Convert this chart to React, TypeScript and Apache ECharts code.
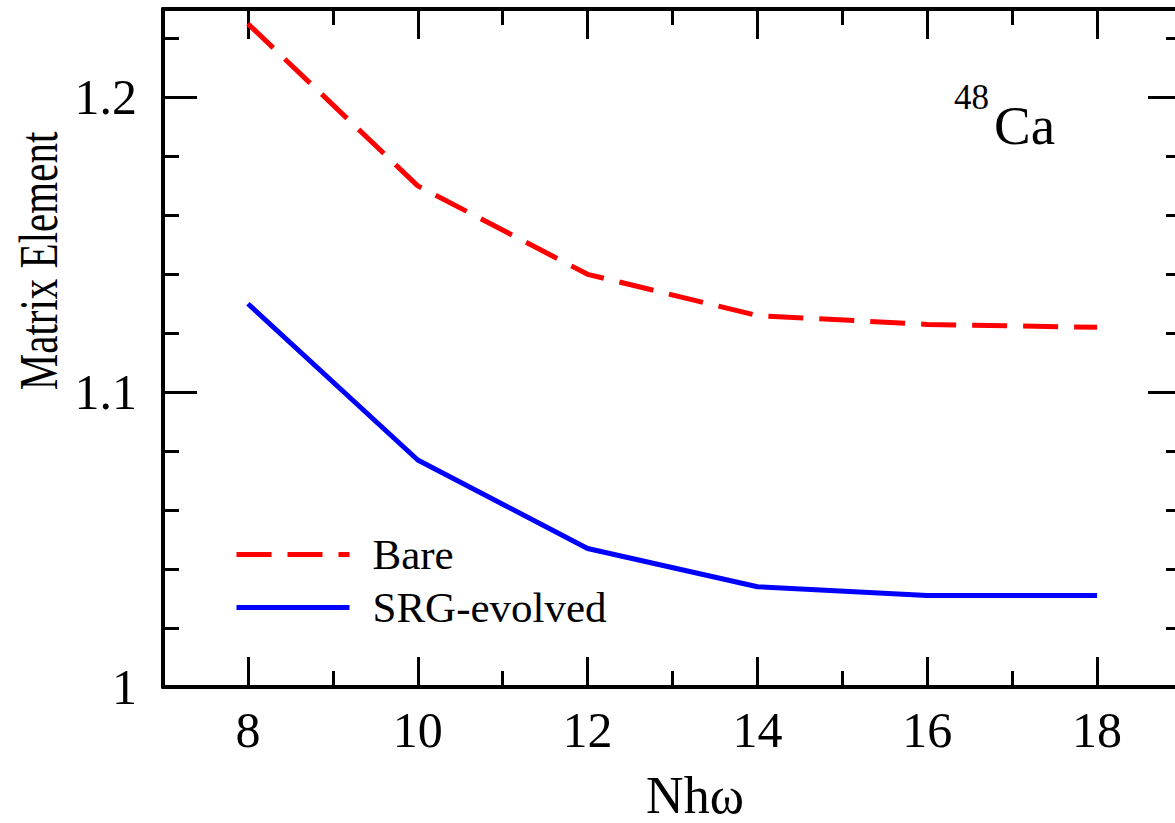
import React, { useEffect, useRef } from "react";
import * as echarts from "echarts";

const nhw = [8, 10, 12, 14, 16, 18];
const bare = [1.225, 1.17, 1.14, 1.126, 1.123, 1.122];
const srg = [1.13, 1.077, 1.047, 1.034, 1.031, 1.031];
const xMajor = [8, 10, 12, 14, 16, 18];
const xMinor = [9, 11, 13, 15, 17];
const yMajor = [1, 1.1, 1.2];

const FONT = "Liberation Serif";

export default function App() {
  const ref = useRef<HTMLDivElement>(null);
  useEffect(() => {
    if (!ref.current) return;
    const chart = echarts.init(ref.current, undefined, { renderer: "svg" });
    const axisLine = { show: true, lineStyle: { color: "#000", width: 4 } };
    const tickStyle = { color: "#000", width: 3 };
    const xBase = { type: "value", min: 7, max: 19, interval: 1, splitLine: { show: false } };
    const yBase = { type: "value", min: 1, max: 1.23, interval: 0.1, splitLine: { show: false } };
    chart.setOption({
      animation: false,
      backgroundColor: "#fff",
      grid: {
        left: 163,
        top: 9,
        right: -7,
        bottom: 136,
        containLabel: false,
        outerBoundsMode: "none",
      },
      graphic: [
        {
          type: "text",
          left: 954,
          top: 80,
          style: { text: "48", fontFamily: FONT, fontSize: 35, fill: "#000" },
        },
        {
          type: "text",
          left: 994,
          top: 98,
          style: { text: "Ca", fontFamily: FONT, fontSize: 55, fill: "#000" },
        },
        {
          type: "text",
          x: 38,
          y: 261,
          rotation: Math.PI / 2,
          scaleX: 0.76,
          style: {
            text: "Matrix Element",
            fontFamily: FONT,
            fontSize: 54,
            fill: "#000",
            align: "center",
            verticalAlign: "middle",
          },
        },
        {
          type: "text",
          x: 695,
          y: 795,
          style: {
            text: "Nhω",
            fontFamily: FONT,
            fontSize: 52,
            fill: "#000",
            align: "center",
            verticalAlign: "middle",
          },
        },
      ],
      legend: {
        orient: "vertical",
        left: 229,
        top: 528,
        itemWidth: 113,
        itemHeight: 20,
        itemGap: 10,
        itemStyle: { opacity: 0 },
        lineStyle: { width: 5 },
        textStyle: { fontFamily: FONT, fontSize: 43, color: "#000", padding: [0, 0, 0, 18] },
        data: ["Bare", "SRG-evolved"],
      },
      xAxis: [
        {
          ...xBase,
          position: "bottom",
          axisLine,
          axisTick: { show: true, inside: true, length: 30, lineStyle: tickStyle, customValues: xMajor },
          axisLabel: { show: true, customValues: xMajor, fontFamily: FONT, fontSize: 50, color: "#000", margin: 18 },
        },
        {
          ...xBase,
          position: "bottom",
          axisLine: { show: false },
          axisTick: { show: true, inside: true, length: 16, lineStyle: tickStyle, customValues: xMinor },
          axisLabel: { show: false },
        },
        {
          ...xBase,
          position: "top",
          axisLine,
          axisTick: { show: true, inside: true, length: 30, lineStyle: tickStyle, customValues: xMajor },
          axisLabel: { show: false },
        },
        {
          ...xBase,
          position: "top",
          axisLine: { show: false },
          axisTick: { show: true, inside: true, length: 16, lineStyle: tickStyle, customValues: xMinor },
          axisLabel: { show: false },
        },
      ],
      yAxis: [
        {
          ...yBase,
          position: "left",
          axisLine,
          axisTick: { show: true, inside: true, length: 34, lineStyle: tickStyle, customValues: yMajor },
          minorTick: { show: true, splitNumber: 5, length: 16, lineStyle: tickStyle },
          axisLabel: {
            show: true,
            customValues: yMajor,
            fontFamily: FONT,
            fontSize: 50,
            color: "#000",
            margin: 26,
            formatter: (v: number) => String(Math.round(v * 10) / 10),
          },
        },
        {
          ...yBase,
          position: "right",
          axisLine,
          axisTick: { show: true, inside: true, length: 34, lineStyle: tickStyle, customValues: yMajor },
          minorTick: { show: true, splitNumber: 5, length: 16, lineStyle: tickStyle },
          axisLabel: { show: false },
        },
      ],
      series: [
        {
          name: "Bare",
          type: "line",
          xAxisIndex: 0,
          yAxisIndex: 0,
          data: nhw.map((x, i) => [x, bare[i]]),
          symbol: "none",
          color: "#ff0000",
          lineStyle: { color: "#ff0000", width: 5, type: [35, 16] },
        },
        {
          name: "SRG-evolved",
          type: "line",
          xAxisIndex: 0,
          yAxisIndex: 0,
          data: nhw.map((x, i) => [x, srg[i]]),
          symbol: "none",
          color: "#0000ff",
          lineStyle: { color: "#0000ff", width: 5 },
        },
      ],
    });
    return () => chart.dispose();
  }, []);
  return (
    <div
      ref={ref}
      style={{ position: "fixed", left: 0, top: 0, width: 1175, height: 823, background: "#fff" }}
    />
  );
}
